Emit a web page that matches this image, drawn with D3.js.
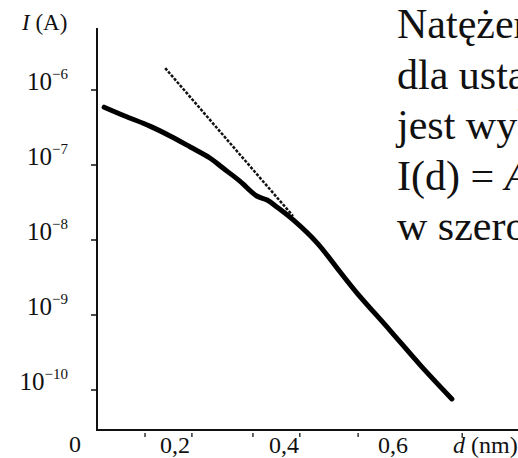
<!DOCTYPE html>
<html>
<head>
    <title>I(d)</title>
    <script src="https://d3js.org/d3.v7.min.js"></script>
    <style>
        body { margin: 0; background: #fff; }
        text { font-family: "Liberation Serif", "Times New Roman", serif; fill: #111; }
    </style>
</head>
<body>
<script>
    // distance d (nm) and current I (A)
    const curveD = [0.070, 0.108, 0.154, 0.191, 0.228, 0.264, 0.288, 0.319, 0.350, 0.369,
                    0.387, 0.417, 0.461, 0.503, 0.534, 0.594, 0.650, 0.708];
    const curveI = [5.9e-7, 4.5e-7, 3.3e-7, 2.44e-7, 1.74e-7, 1.24e-7, 9.1e-8, 6.1e-8, 3.86e-8, 3.41e-8,
                    2.75e-8, 1.85e-8, 9.1e-9, 3.74e-9, 1.96e-9, 6.3e-10, 2.15e-10, 7.6e-11];

    // dashed asymptote
    const dashD = [0.182, 0.4165];
    const dashI = [1.96e-6, 2.09e-8];

    const yTicks = [1e-6, 1e-7, 1e-8, 1e-9, 1e-10];
    const yTickExp = ["\u22126", "\u22127", "\u22128", "\u22129", "\u221210"];
    const xTicks = [0.2, 0.4, 0.6];
    const xTickLabels = ["0,2", "0,4", "0,6"];
    const xTickMarks = [0.145, 0.231, 0.343, 0.429, 0.536, 0.727];

    const textLines = ["Natężenie", "dla ustalonego", "jest wykładniczą", "I(d) = ", "w szerokim"];

    const width = 518, height = 458;
    const axisX = 97, axisY = 430, axisTop = 28;

    const x = d3.scaleLinear().domain([0, 0.6]).range([66, 393]);
    const y = d3.scaleLog().domain([1e-10, 1e-6]).range([390, 90]);

    const svg = d3.select("body")
        .append("svg")
        .attr("width", width)
        .attr("height", height);

    svg.append("rect").attr("width", width).attr("height", height).attr("fill", "#fff");

    // axes
    svg.append("line")
        .attr("x1", axisX).attr("x2", axisX)
        .attr("y1", axisTop).attr("y2", axisY + 1)
        .attr("stroke", "#111").attr("stroke-width", 2);
    svg.append("line")
        .attr("x1", axisX - 1).attr("x2", width)
        .attr("y1", axisY).attr("y2", axisY)
        .attr("stroke", "#111").attr("stroke-width", 2);

    // y ticks
    yTicks.forEach((v, i) => {
        svg.append("line")
            .attr("x1", axisX - 6).attr("x2", axisX)
            .attr("y1", y(v)).attr("y2", y(v))
            .attr("stroke", "#111").attr("stroke-width", 1.5);
        const t = svg.append("text")
            .attr("x", 68).attr("y", y(v))
            .attr("text-anchor", "end")
            .style("font-size", "25px");
        t.append("tspan").text("10");
        t.append("tspan").attr("dy", -11).style("font-size", "15px").text(yTickExp[i]);
    });

    // x ticks
    xTickMarks.forEach(v => {
        svg.append("line")
            .attr("x1", x(v)).attr("x2", x(v))
            .attr("y1", axisY + 3).attr("y2", axisY + 7)
            .attr("stroke", "#333").attr("stroke-width", 1.5);
    });
    xTicks.forEach((v, i) => {
        svg.append("text")
            .attr("x", x(v)).attr("y", 453)
            .attr("text-anchor", "middle")
            .style("font-size", "24px")
            .text(xTickLabels[i]);
    });

    svg.append("text")
        .attr("x", 75).attr("y", 452)
        .attr("text-anchor", "middle")
        .style("font-size", "24px")
        .text("0");

    // axis titles
    const yt = svg.append("text").attr("x", 22).attr("y", 30).style("font-size", "23px");
    yt.append("tspan").style("font-style", "italic").text("I");
    yt.append("tspan").text(" (A)");

    const xt = svg.append("text").attr("x", 453).attr("y", 453).style("font-size", "24px");
    xt.append("tspan").style("font-style", "italic").text("d");
    xt.append("tspan").text(" (nm)");

    // dashed line
    const pts = d3.zip(dashD, dashI);
    svg.append("line")
        .attr("x1", x(pts[0][0])).attr("y1", y(pts[0][1]))
        .attr("x2", x(pts[1][0])).attr("y2", y(pts[1][1]))
        .attr("stroke", "#111")
        .attr("stroke-width", 2.5)
        .attr("stroke-dasharray", "3,1.5");

    // solid curve
    const line = d3.line()
        .x(d => x(d[0]))
        .y(d => y(d[1]))
        .curve(d3.curveCatmullRom);

    svg.append("path")
        .datum(d3.zip(curveD, curveI))
        .attr("d", line)
        .attr("fill", "none")
        .attr("stroke", "#000")
        .attr("stroke-width", 5)
        .attr("stroke-linecap", "round")
        .attr("stroke-linejoin", "round");

    // text on the right, cut by the right edge as in the source
    textLines.forEach((s, i) => {
        const t = svg.append("text")
            .attr("x", 397).attr("y", 38 + i * 50.5)
            .style("font-size", "42px");
        t.append("tspan").text(s);
        if (i === 3) t.append("tspan").style("font-style", "italic").text("A exp");
    });
</script>
</body>
</html>
